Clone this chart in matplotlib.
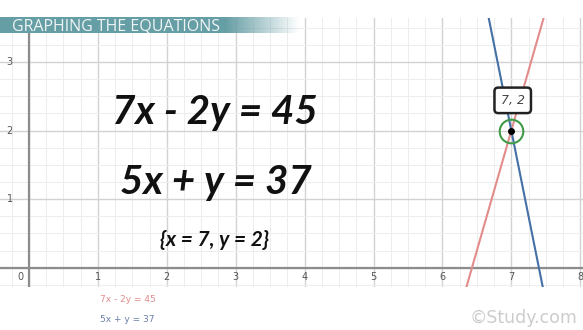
import matplotlib.pyplot as plt
import numpy as np

# equations a*x + b*y = c
eq_labels = ["7x - 2y = 45", "5x + y = 37"]
eq_a = [7, 5]
eq_b = [-2, 1]
eq_c = [45, 37]
eq_colors = ["#e38c8c", "#4470a6"]
line_x = [[6.2, 7.7], [6.5, 7.5]]

sol_x = 7
sol_y = 2
sol_text = "{x = 7, y = 2}"

x_ticks = [1, 2, 3, 4, 5, 6, 7, 8]
y_ticks = [1, 2, 3]

fig = plt.figure(figsize=(5.83, 3.30), dpi=100)
fig.patch.set_facecolor("white")

# graph paper area
ax = fig.add_axes([0, (330 - 287) / 330, 1, (287 - 18) / 330])
ax.set_xlim(-0.42, 8.04)
ax.set_ylim(-0.28, 3.64)
ax.axis("off")

for v in np.arange(-0.25, 8.1, 0.25):
    major = abs(v - round(v)) < 1e-6
    ax.axvline(v, color="#d2d2d2" if major else "#ededed", lw=1.0 if major else 0.7, zorder=0)
for v in np.arange(-0.25, 3.7, 0.25):
    major = abs(v - round(v)) < 1e-6
    ax.axhline(v, color="#d2d2d2" if major else "#ededed", lw=1.0 if major else 0.7, zorder=0)

ax.axhline(0, color="#8c8c8c", lw=1.6, zorder=1)
ax.axvline(0, color="#8c8c8c", lw=1.6, zorder=1)

for t in x_ticks:
    ax.text(t, -0.06, str(t), ha="center", va="top", fontsize=7, color="#555555")
ax.text(-0.12, -0.06, "0", ha="center", va="top", fontsize=7, color="#555555")
for t in y_ticks:
    ax.text(-0.28, t, str(t), ha="center", va="center", fontsize=7, color="#555555")

# lines
for a, b, c, col, xs in zip(eq_a, eq_b, eq_c, eq_colors, line_x):
    xs = np.array(xs)
    ys = (c - a * xs) / b
    ax.plot(xs, ys, color=col, lw=1.5, zorder=3)

# solution marker
ax.plot(sol_x, sol_y, "o", ms=17, mfc="none", mec="#3f9b47", mew=1.5, zorder=4)
ax.plot(sol_x, sol_y, "o", ms=4, color="black", zorder=5)
ax.text(sol_x + 0.02, sol_y + 0.44, f"{sol_x}, {sol_y}", ha="center", va="center",
        fontsize=9, style="italic", color="#444444", zorder=6,
        bbox=dict(boxstyle="round,pad=0.5,rounding_size=0.3", fc="white", ec="#222222", lw=1.8))

# big equations
ax.text(2.70, 2.27, eq_labels[0], ha="center", va="center", fontsize=29,
        family="Lato", weight="bold", style="italic", color="#111111")
ax.text(2.71, 1.24, eq_labels[1], ha="center", va="center", fontsize=29,
        family="Lato", weight="bold", style="italic", color="#111111")
ax.text(2.69, 0.41, sol_text, ha="center", va="center", fontsize=15,
        family="Lato", weight="bold", style="italic", color="#111111")

# header band with fade
hdr = fig.add_axes([0, (330 - 33) / 330, 300 / 583, 16 / 330])
hdr.axis("off")
grad = np.ones((1, 300, 4))
grad[..., 0] = 0.40
grad[..., 1] = 0.62
grad[..., 2] = 0.65
alpha = np.ones(300)
alpha[225:] = np.linspace(1, 0, 75)
grad[0, :, 3] = alpha
hdr.imshow(grad, aspect="auto", extent=[0, 1, 0, 1])
hdr.set_xlim(0, 1)
hdr.set_ylim(0, 1)
hdr.text(12 / 300, 0.42, "GRAPHING THE EQUATIONS", ha="left", va="center",
         fontsize=11.5, color="#eef4f4", family="Open Sans")

# small legend below
fig.text(100 / 583, 1 - 300 / 330, eq_labels[0], ha="left", va="center",
         fontsize=6.5, color=eq_colors[0])
fig.text(100 / 583, 1 - 320 / 330, eq_labels[1], ha="left", va="center",
         fontsize=6.5, color="#6a7fa8")

fig.text(578 / 583, 1 - 318 / 330, "\u00a9Study.com", ha="right", va="center",
         fontsize=12.5, color="#cccccc")

fig.savefig("out.png", dpi=100)
